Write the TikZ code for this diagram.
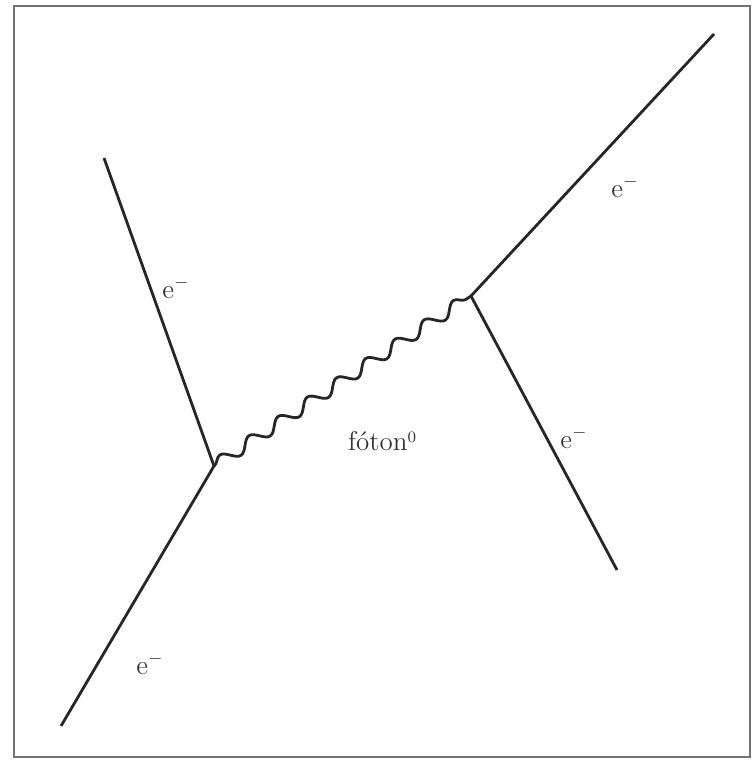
\documentclass[tikz,border=0pt]{standalone}
\usepackage{tikz}
\usetikzlibrary{decorations.pathmorphing,positioning}

\begin{document}
\begin{tikzpicture}[x=0.5pt, y=-0.5pt,
  fermion/.style={line width=1.4pt, draw=black!85},
  photon/.style={line width=1.4pt, draw=black!85, decorate,
    decoration={snake, amplitude=3pt, segment length=17.5pt}},
  lbl/.style={font=\fontsize{13.5}{15}\selectfont, text=black!80, inner sep=1pt}]
  \useasboundingbox (0,0) rectangle (752,760);
  \draw[line width=1pt, draw=black!55] (14,6) rectangle (750,757);
  % vertices and line ends
  \coordinate (v1) at (214,466);
  \coordinate (v2) at (471,296);
  \coordinate (inA) at (104,158);
  \coordinate (inB) at (61,726);
  \coordinate (outA) at (714,34);
  \coordinate (outB) at (617,570);
  % electrons
  \draw[fermion] (inA) -- (v1) -- (inB);
  \draw[fermion] (outA) -- (v2) -- (outB);
  % photon
  \draw[photon] (v1) -- (v2);
  % labels
  \node[lbl] (eA) at (176,288) {e$^-$};
  \node[lbl] (eB) at (150,664) {e$^-$};
  \node[lbl] (eC) at (625,187) {e$^-$};
  \node[lbl] (eD) at (574,438) {e$^-$};
  \node[lbl] (ph) at (382,441) {fóton{\fontsize{8}{9}\selectfont\raisebox{1.2ex}{0}}};
\end{tikzpicture}
\end{document}
